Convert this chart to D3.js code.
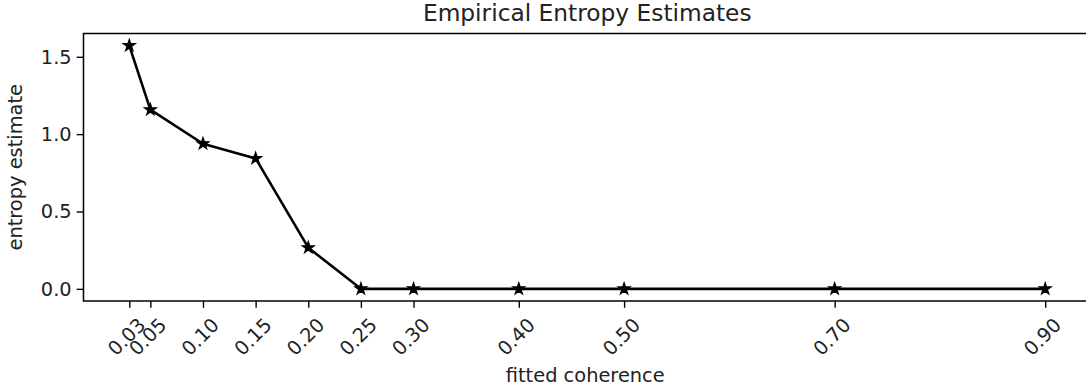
<!DOCTYPE html>
<html>
<head>
<meta charset="utf-8">
<script src="https://cdn.jsdelivr.net/npm/d3@7"></script>
<style>
  html, body { margin: 0; padding: 0; background: #fff; overflow: hidden; }
  svg { display: block; font-family: "DejaVu Sans", sans-serif; }
</style>
</head>
<body>
<svg id="chart" width="1086" height="391"></svg>
<script>
// Coherence levels that were fitted and the entropy estimated at each
const coherence = [0.03, 0.05, 0.10, 0.15, 0.20, 0.25, 0.30, 0.40, 0.50, 0.70, 0.90];
const entropy   = [1.572, 1.158, 0.938, 0.843, 0.266, 0, 0, 0, 0, 0, 0];
const xTickLabels = ["0.03", "0.05", "0.10", "0.15", "0.20", "0.25", "0.30", "0.40", "0.50", "0.70", "0.90"];
const yTicks = [0.0, 0.5, 1.0, 1.5];

const chartTitle = "Empirical Entropy Estimates";
const xTitle = "fitted coherence";
const yTitle = "entropy estimate";

const svg = d3.select("#chart");
const plot = { left: 83.5, right: 1091, top: 33.5, bottom: 301 };

// 5% padding on each side of the data range
const xExt = d3.extent(coherence);
const xPad = (xExt[1] - xExt[0]) * 0.05;
const x = d3.scaleLinear()
  .domain([xExt[0] - xPad, xExt[1] + xPad])
  .range([plot.left, plot.right]);

const yMax = d3.max(entropy), yMin = d3.min(entropy);
const yPad = (yMax - yMin) * 0.05;
const y = d3.scaleLinear()
  .domain([yMin - yPad, yMax + yPad])
  .range([plot.bottom, plot.top]);

const tickFont = 19.4;

// y axis
const yAxis = svg.append("g")
  .attr("transform", `translate(${plot.left},0)`)
  .call(d3.axisLeft(y).tickValues(yTicks).tickFormat(d3.format(".1f"))
    .tickSize(6.8).tickPadding(5));
yAxis.select(".domain").remove();
yAxis.selectAll(".tick line").attr("stroke", "#000").attr("stroke-width", 1.4);
yAxis.selectAll(".tick text")
  .attr("font-size", tickFont).attr("fill", "#222")
  .attr("font-family", "DejaVu Sans, sans-serif");

// x axis with rotated labels
const xAxis = svg.append("g")
  .attr("transform", `translate(0,${plot.bottom})`)
  .call(d3.axisBottom(x).tickValues(coherence)
    .tickFormat((d, i) => xTickLabels[i]).tickSize(6.8));
xAxis.select(".domain").remove();
xAxis.selectAll(".tick line").attr("stroke", "#000").attr("stroke-width", 1.4);
xAxis.selectAll(".tick text")
  .attr("font-size", tickFont).attr("fill", "#222")
  .attr("font-family", "DejaVu Sans, sans-serif")
  .attr("text-anchor", "middle")
  .attr("dy", null)
  .attr("y", null)
  .attr("dominant-baseline", "central")
  .attr("transform", "translate(-3,36) rotate(-45)");

// frame
svg.append("rect")
  .attr("x", plot.left).attr("y", plot.top)
  .attr("width", plot.right - plot.left).attr("height", plot.bottom - plot.top)
  .attr("fill", "none").attr("stroke", "#000").attr("stroke-width", 1.5);

// data line
const pts = coherence.map((c, i) => [c, entropy[i]]);
svg.append("path")
  .datum(pts)
  .attr("fill", "none").attr("stroke", "#000").attr("stroke-width", 2.6)
  .attr("stroke-linejoin", "round")
  .attr("d", d3.line().x(d => x(d[0])).y(d => y(d[1])));

// star markers
const star = d3.symbol().type(d3.symbolStar).size(44);
svg.append("g").selectAll("path")
  .data(pts).join("path")
  .attr("transform", d => `translate(${x(d[0])},${y(d[1])})`)
  .attr("d", star)
  .attr("fill", "#000").attr("stroke", "#000").attr("stroke-width", 1.2)
  .attr("stroke-linejoin", "miter");

// titles
const cx = (plot.left + plot.right) / 2;
svg.append("text")
  .attr("x", cx).attr("y", 21)
  .attr("text-anchor", "middle").attr("font-size", 23.3).attr("fill", "#222")
  .text(chartTitle);

svg.append("text")
  .attr("x", cx - 2).attr("y", 382)
  .attr("text-anchor", "middle").attr("font-size", tickFont).attr("fill", "#222")
  .text(xTitle);

svg.append("text")
  .attr("transform", `translate(22,${(plot.top + plot.bottom) / 2}) rotate(-90)`)
  .attr("text-anchor", "middle").attr("font-size", tickFont).attr("fill", "#222")
  .text(yTitle);
</script>
</body>
</html>
